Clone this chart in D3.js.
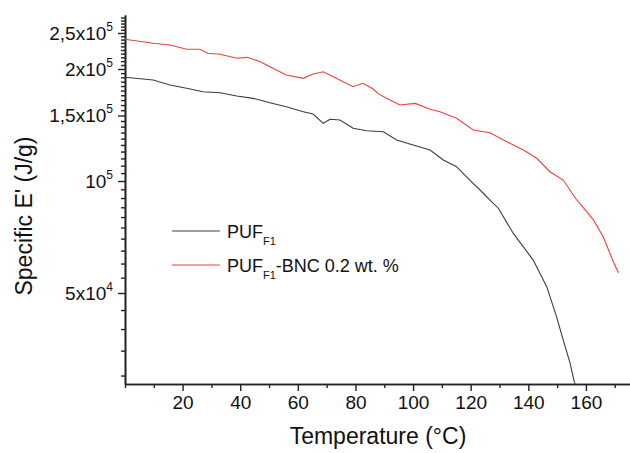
<!DOCTYPE html>
<html>
<head>
<meta charset="utf-8">
<script src="https://cdn.jsdelivr.net/npm/d3@7"></script>
<style>
  body { margin: 0; background: #fff; }
  text { font-family: "Liberation Sans", Arial, sans-serif; fill: #111; }
</style>
</head>
<body>
<script>
// PUF F1 (black curve): temperature in °C, specific E' in J/g
const tempPuf = [0, 9.8, 15.6, 21.4, 27, 33, 38.8, 44.5, 50.3, 56, 61.9, 65.3, 68.8, 71.2, 74.6,
  79.2, 83.9, 89.7, 94.3, 100, 105.9, 110.5, 115.1, 119.7, 124.4, 126.7, 129.6, 134.8, 141.7,
  146.4, 149.8, 152.1, 154.5, 155.8, 156.2];
const ePuf = [190000, 186900, 181200, 177500, 173800, 172700, 169200, 166800, 162400, 158400,
  153600, 151400, 142900, 146500, 145900, 138600, 136500, 135700, 128900, 125000, 121200,
  113900, 109300, 100600, 92700, 88900, 84500, 72300, 61300, 52000, 43200, 37400, 32400,
  29200, 28500];

// PUF F1 - BNC 0.2 wt. % (red curve)
const tempBnc = [0, 9.8, 15.6, 21.4, 26, 28.7, 33, 38.8, 42.4, 47, 50.3, 56, 61.9, 65.3, 68.8,
  72.3, 75.7, 79.2, 82.6, 86, 88, 90.8, 95.4, 100.7, 105.9, 109.3, 115.1, 120.9, 126.7, 132.5,
  138.3, 142.9, 147.5, 152.1, 156.8, 157.9, 162.6, 166, 169.5, 171.3];
const eBnc = [240400, 234500, 232000, 226000, 226000, 220400, 219100, 213700, 215000, 209300,
  202900, 192700, 188800, 193900, 196700, 190700, 184900, 179300, 183100, 177000, 171500,
  166800, 160100, 161700, 155900, 153600, 147400, 137100, 134800, 127500, 121200, 115100,
  105900, 100600, 88900, 87100, 78600, 70800, 60700, 56700];

const xTicks = [20, 40, 60, 80, 100, 120, 140, 160];
const xMinorTicks = [0, 10, 30, 50, 70, 90, 110, 130, 150, 170];
const yTicks = [50000, 100000, 150000, 200000, 250000];
const yTickBase = ["5x10", "10", "1,5x10", "2x10", "2,5x10"];
const yTickExp = ["4", "5", "5", "5", "5"];

const seriesNames = ["PUF", "PUF"];
const seriesSubs = ["F1", "F1"];
const seriesTails = ["", "-BNC 0.2 wt. %"];
const seriesColors = ["#3c3c3c", "#ec4040"];

const width = 630, height = 453;
const plotLeft = 125, plotRight = 630, plotTop = 15, plotBottom = 384;

const svg = d3.select("body").append("svg")
  .attr("width", width)
  .attr("height", height);

const x = d3.scaleLinear().domain([0, 175.3]).range([plotLeft, plotRight]);
const y = d3.scaleLog().domain([28470, 279400]).range([plotBottom, plotTop]);

// y minor ticks every 5000
const yMinor = d3.range(30000, 280000, 5000).filter(v => !yTicks.includes(v));

const axisStyle = g => {
  g.select(".domain").attr("stroke", "#222").attr("stroke-width", 1.6);
  g.selectAll(".tick line").attr("stroke", "#222").attr("stroke-width", 1.4);
};

svg.append("g")
  .attr("transform", `translate(${plotLeft},0)`)
  .call(d3.axisLeft(y).tickValues(yMinor).tickSize(4).tickFormat("").tickSizeOuter(0))
  .call(axisStyle);

const yAxis = svg.append("g")
  .attr("transform", `translate(${plotLeft},0)`)
  .call(d3.axisLeft(y).tickValues(yTicks).tickSize(7).tickPadding(5).tickSizeOuter(0))
  .call(axisStyle);

yAxis.selectAll(".tick text").each(function(d, i) {
  const t = d3.select(this).text("")
    .attr("font-size", 19)
    .attr("font-family", null)
    .attr("fill", "#111");
  t.append("tspan").text(yTickBase[i]);
  t.append("tspan").attr("font-size", 12).attr("dy", "-0.75em").text(yTickExp[i]);
});

svg.append("g")
  .attr("transform", `translate(0,${plotBottom})`)
  .call(d3.axisBottom(x).tickValues(xMinorTicks).tickSize(4).tickFormat("").tickSizeOuter(0))
  .call(axisStyle);

const xAxis = svg.append("g")
  .attr("transform", `translate(0,${plotBottom})`)
  .call(d3.axisBottom(x).tickValues(xTicks).tickSize(7).tickPadding(5).tickSizeOuter(0))
  .call(axisStyle);

xAxis.selectAll(".tick text")
  .attr("font-size", 19)
  .attr("font-family", null)
  .attr("fill", "#111");

// axis titles
svg.append("text")
  .attr("x", 378)
  .attr("y", 444)
  .attr("text-anchor", "middle")
  .attr("font-size", 23)
  .text("Temperature (°C)");

svg.append("text")
  .attr("transform", "translate(32,216) rotate(-90)")
  .attr("text-anchor", "middle")
  .attr("font-size", 23)
  .text("Specific E' (J/g)");

// curves
const line = d3.line().x(d => x(d[0])).y(d => y(d[1]));

svg.append("path")
  .datum(d3.zip(tempPuf, ePuf))
  .attr("d", line)
  .attr("fill", "none")
  .attr("stroke", seriesColors[0])
  .attr("stroke-width", 1.1);

svg.append("path")
  .datum(d3.zip(tempBnc, eBnc))
  .attr("d", line)
  .attr("fill", "none")
  .attr("stroke", seriesColors[1])
  .attr("stroke-width", 1.1);

// legend
const legend = svg.append("g").attr("transform", "translate(172,231)");

seriesNames.forEach((name, i) => {
  const row = legend.append("g").attr("transform", `translate(0,${i * 34})`);
  row.append("line")
    .attr("x1", 0).attr("x2", 48)
    .attr("stroke", seriesColors[i])
    .attr("stroke-width", 1.1);
  const t = row.append("text")
    .attr("x", 55)
    .attr("y", 7)
    .attr("font-size", 18);
  t.append("tspan").text(name);
  t.append("tspan").attr("font-size", 11).attr("dy", 7).text(seriesSubs[i]);
  t.append("tspan").attr("dy", -7).text(seriesTails[i]);
});
</script>
</body>
</html>
